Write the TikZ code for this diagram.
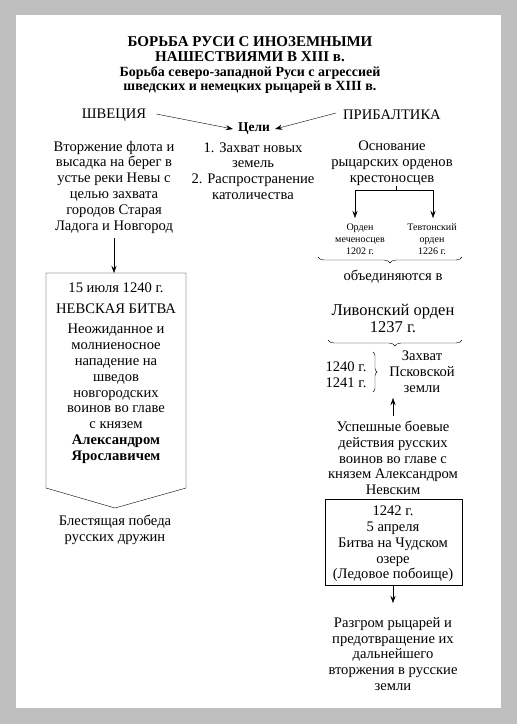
\documentclass[tikz,border=0pt]{standalone}
\usepackage{fontspec}
\setmainfont{Liberation Serif}
\usetikzlibrary{calc,arrows.meta,decorations.pathreplacing}

\tikzset{
  txt/.style={align=center, inner sep=0pt, font=\fontsize{14.6}{15.8}\selectfont},
  small/.style={align=center, inner sep=0pt, font=\fontsize{10}{12}\selectfont},
  head/.style={align=center, inner sep=0pt, font=\bfseries\fontsize{15}{14.5}\selectfont},
  subhead/.style={align=center, inner sep=0pt, font=\bfseries\fontsize{14}{14}\selectfont},
  arr/.style={-{Stealth[length=7pt,width=5pt]}, thin},
  brc/.style={decorate, decoration={brace, amplitude=6pt}, thin}
}

\begin{document}
\begin{tikzpicture}[x=1pt, y=-1pt]
\useasboundingbox (0,0) rectangle (517,724);
\fill[black!25] (0,0) rectangle (517,724);
\fill[white] (16,15) rectangle (501,708);

\node[head] (title) at (250,49) {БОРЬБА РУСИ С ИНОЗЕМНЫМИ\\НАШЕСТВИЯМИ В XIII в.};
\node[subhead] (subtitle) at (250,79.5) {Борьба северо-западной Руси с агрессией\\шведских и немецких рыцарей в XIII в.};

\node[txt] (shvec) at (114,115) {ШВЕЦИЯ};
\node[txt] (pribalt) at (392,115) {ПРИБАЛТИКА};
\node[txt, font=\bfseries\fontsize{13.5}{14}\selectfont] (celi) at (254,129) {Цели};
\draw[arr] ($(shvec.east)+(10,-1)$) -- ($(celi.west)+(-5,0)$);
\draw[arr] ($(pribalt.west)+(-7,-2)$) -- ($(celi.east)+(5,0)$);
\node[txt] (goals) at (253,171) {1. Захват новых\\земель\\2. Распространение\\католичества};

% Швеция
\node[txt] (invade) at (114,187) {Вторжение флота и\\высадка на берег в\\устье реки Невы с\\целью захвата\\городов Старая\\Ладога и Новгород};
\coordinate (boxtop) at (114,273);
\draw[arr] ($(invade.south)+(0,5)$) -- (boxtop);
\draw (46,273) -- (186,273) -- (186,488) -- (115,508) -- (46,488) -- cycle;
\node[txt] (neva) at (116,373) {15 июля 1240 г.\\[5pt]НЕВСКАЯ БИТВА\\[5pt]Неожиданное и\\молниеносное\\нападение на\\шведов\\новгородских\\воинов во главе\\с князем\\\textbf{Александром}\\\textbf{Ярославичем}};
\node[txt] (victory) at (115,530) {Блестящая победа\\русских дружин};

% Прибалтика
\node[txt] (osn) at (392,163) {Основание\\рыцарских орденов\\крестоносцев};
\coordinate (fork) at (396,190);
\draw (396,186) -- (fork);
\draw[arr] (fork) -| (355,218);
\draw[arr] (fork) -| (433,218);
\node[small] (mech) at (360,239) {Орден\\меченосцев\\1202 г.};
\node[small] (tevt) at (432,239) {Тевтонский\\орден\\1226 г.};
\draw[brc] (462,257) -- (318,257);
\node[txt] (unite) at (393,277) {объединяются в};
\node[txt, font=\fontsize{16.5}{17}\selectfont] (livon) at (393,318) {Ливонский орден\\1237 г.};
\draw[brc] (462,340) -- (328,340);
\node[txt] (years) at (346,375) {1240 г.\\1241 г.};
\draw[brc, decoration={amplitude=4pt}] (373,352) -- (373,392);
\node[txt] (pskov) at (422,372) {Захват\\Псковской\\земли};
\node[txt] (success) at (393,458) {Успешные боевые\\действия русских\\воинов во главе с\\князем Александром\\Невским};
\draw[arr] ($(success.north)+(0,-5)$) -- (393,398);
\draw (325,499) rectangle (462,585);
\node[txt] (chud) at (393,544) {1242 г.\\5 апреля\\Битва на Чудском\\озере\\(Ледовое побоище)};
\coordinate (boxbot) at (393,585);
\draw[arr] (boxbot) -- (393,603);
\node[txt] (defeat) at (393,654) {Разгром рыцарей и\\предотвращение их\\дальнейшего\\вторжения в русские\\земли};
\end{tikzpicture}
\end{document}
